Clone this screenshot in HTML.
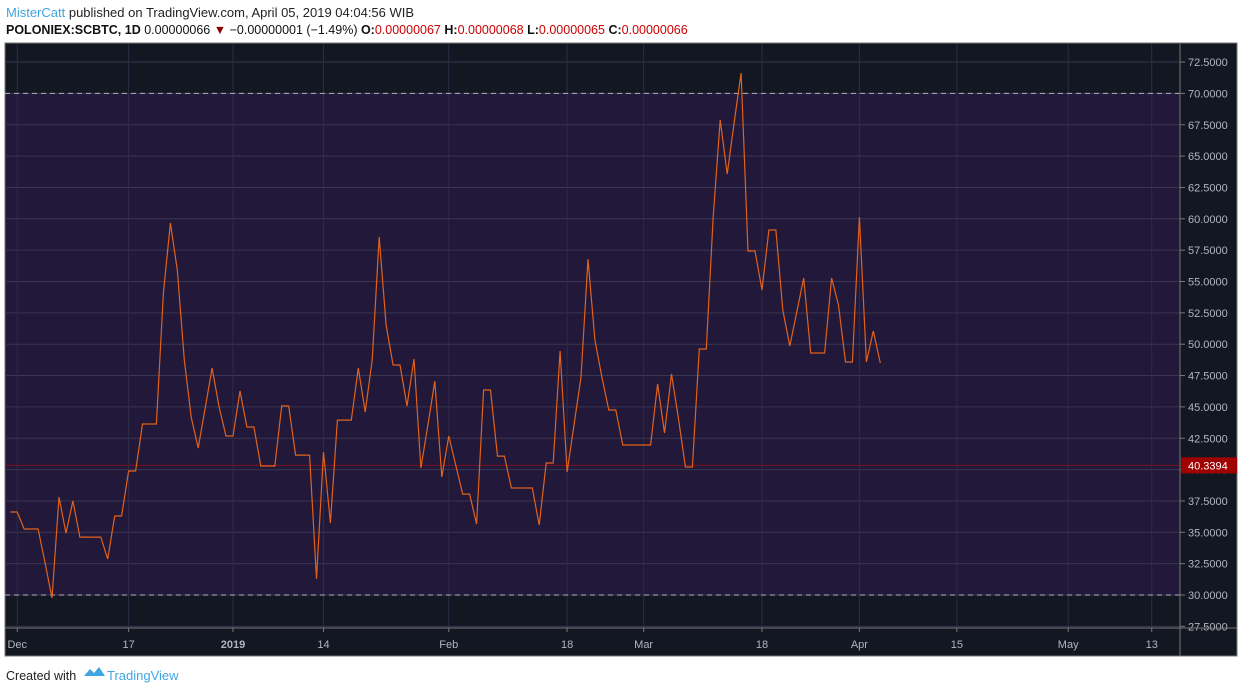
<!DOCTYPE html>
<html><head><meta charset="utf-8"><style>
body{margin:0;background:#fff;width:1243px;height:693px;overflow:hidden;font-family:"Liberation Sans",sans-serif}
svg{position:absolute;left:0;top:0}
</style></head><body>
<svg id="c" width="1243" height="693">
<text x="6" y="17" font-size="13" fill="#222"><tspan fill="#3ea6e0">MisterCatt</tspan> published on TradingView.com, April 05, 2019 04:04:56 WIB</text>
<text x="6" y="34" font-size="12.5" fill="#111"><tspan font-weight="bold">POLONIEX:SCBTC, 1D</tspan> 0.00000066 <tspan fill="#8b0000">▼</tspan> −0.00000001 (−1.49%) <tspan font-weight="bold">O:</tspan><tspan fill="#c00">0.00000067</tspan> <tspan font-weight="bold">H:</tspan><tspan fill="#c00">0.00000068</tspan> <tspan font-weight="bold">L:</tspan><tspan fill="#c00">0.00000065</tspan> <tspan font-weight="bold">C:</tspan><tspan fill="#c00">0.00000066</tspan></text>
<rect x="5" y="43" width="1232" height="613" fill="#131722" stroke="#777"/>
<g id="plot"></g>
<text x="6" y="680" font-size="12.5" fill="#222">Created with</text>
<g><path d="M84 676 l6-7 4 4 5-6 6 9z" fill="#3ea6e0"/><text x="107" y="680" font-size="13" fill="#3ea6e0">TradingView</text></g>
</svg>
<script>
const values=[36.62,36.62,35.26,35.26,35.26,32.55,29.76,37.81,34.94,37.50,34.62,34.62,34.62,34.62,32.87,36.30,36.30,39.89,39.89,43.64,43.64,43.64,54.08,59.66,55.92,48.74,44.19,41.72,44.91,48.10,44.99,42.68,42.68,46.27,43.40,43.40,40.29,40.29,40.29,45.07,45.07,41.16,41.16,41.16,31.28,41.40,35.74,43.95,43.95,43.95,48.10,44.59,48.74,58.55,51.53,48.34,48.34,45.07,48.82,40.13,43.56,47.06,39.41,42.68,40.37,38.05,38.05,35.66,46.35,46.35,41.08,41.08,38.53,38.53,38.53,38.53,35.58,40.53,40.53,49.46,39.81,43.56,47.38,56.79,50.33,47.38,44.75,44.75,41.96,41.96,41.96,41.96,41.96,46.83,42.92,47.62,44.11,40.21,40.21,49.62,49.62,60.14,67.88,63.57,67.64,71.62,57.43,57.43,54.32,59.11,59.11,52.73,49.86,52.57,55.28,49.30,49.30,49.30,55.28,53.12,48.58,48.58,60.14,48.58,51.05,48.50];
const startDay=-32; // days relative to 2019-01-01
const yTicks=[27.5,30,32.5,35,37.5,40,42.5,45,47.5,50,52.5,55,57.5,60,62.5,65,67.5,70,72.5];
const xTickDays=[-31,-15,0,13,31,48,59,76,90,104,120,132];
const xTickLabels=["Dec","17","2019","14","Feb","18","Mar","18","Apr","15","May","13"];
const lastPrice=40.3394;
const bandTop=70, bandBottom=30;

const L=5,R=1180,T=44,B=628;
const y=v=>595-(v-30)*(31.35/2.5);
const x=d=>233+d*6.96;
const NS="http://www.w3.org/2000/svg";
const g=document.getElementById('plot');
function mk(t,a,p){const e=document.createElementNS(NS,t);for(const k in a)e.setAttribute(k,a[k]);(p||g).appendChild(e);return e;}
const band=mk('rect',{x:L+1,y:y(bandTop),width:R-L-1,height:y(bandBottom)-y(bandTop),fill:'#21183a'});


yTicks.forEach(v=>{
  const ln=mk('line',{x1:L,x2:R,y1:y(v),y2:y(v),stroke:'#3a3550','stroke-width':1});
  
  
  if(y(v)>T&&y(v)<B+4){
  const t=mk('text',{x:1188,y:y(v)+4,'font-size':11,fill:'#b2b5be'});t.textContent=v.toFixed(4);
  
  
  mk('line',{x1:R,x2:R+5,y1:y(v),y2:y(v),stroke:'#777'});}
});
xTickDays.forEach((d,i)=>{
  const ln=mk('line',{x1:x(d),x2:x(d),y1:T,y2:B,stroke:'#2e2c45','stroke-width':1});
  
  
  mk('line',{x1:x(d),x2:x(d),y1:B,y2:B+4,stroke:'#777'});
  const t=mk('text',{x:x(d),y:648,'font-size':11,fill:'#b2b5be','text-anchor':'middle','font-weight':i==2?'bold':'normal'});
  t.textContent=xTickLabels[i];
  
  
});
[bandTop,bandBottom].forEach(v=>{
  const ln=mk('line',{x1:L,x2:R,y1:y(v),y2:y(v),stroke:'#b0b0c0','stroke-dasharray':'5,4','stroke-width':1});
  
  
});
const pl=mk('line',{x1:L,x2:R,y1:y(lastPrice),y2:y(lastPrice),stroke:'#7a1020','stroke-width':1});


const pts=values.map((v,i)=>x(startDay+i).toFixed(1)+','+y(v).toFixed(1)).join(' ');
const line=mk('polyline',{points:pts,fill:'none',stroke:'#e0621c','stroke-width':1.2});


mk('line',{x1:R,x2:R,y1:T,y2:656,stroke:'#777'});
mk('line',{x1:L,x2:1237,y1:B,y2:B,stroke:'#777'});
const lb=mk('rect',{x:R+1,y:y(lastPrice)-8,width:56,height:16,fill:'#a00000'});


const lt=mk('text',{x:1188,y:y(lastPrice)+4,'font-size':11,fill:'#fff'});lt.textContent=lastPrice.toFixed(4);


</script>
</body></html>
